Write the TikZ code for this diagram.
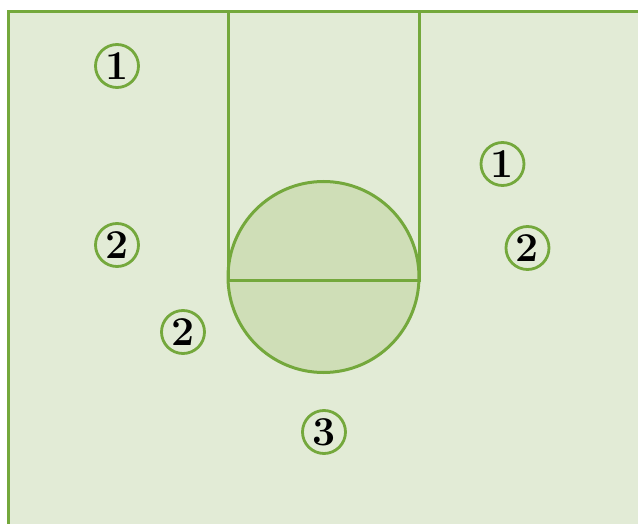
\documentclass[tikz,border=0pt]{standalone}
\usepackage{fontspec}
\definecolor{courtfill}{HTML}{E2EBD6}
\definecolor{keyfill}{HTML}{CFDEB7}
\definecolor{courtline}{HTML}{74A83C}
\tikzset{
  court/.style={draw=courtline, line width=3pt},
  spot/.style={circle, draw=courtline, line width=2.8pt, minimum size=43pt, inner sep=0pt,
    font=\fontsize{41}{41}\selectfont\bfseries, text=black}
}
\begin{document}
\begin{tikzpicture}[x=1pt,y=-1pt]
\useasboundingbox (0,0) rectangle (638,524);
\clip (0,0) rectangle (638,524);
\fill[white] (0,0) rectangle (638,524);
\draw[court, fill=courtfill] (8,12) rectangle (660,560);
\draw[court, fill=keyfill] (323.5,277) circle (95.5);
\draw[court] (228,12) rectangle (419,280);
\draw[court] (228,280) -- (419,280);
\node[spot] (a1) at (117,66) {1};
\node[spot] (a2) at (117,245) {2};
\node[spot] (a3) at (183,332) {2};
\node[spot] (a4) at (324,432) {3};
\node[spot] (a5) at (502.5,164) {1};
\node[spot] (a6) at (527.5,248) {2};
\end{tikzpicture}
\end{document}
